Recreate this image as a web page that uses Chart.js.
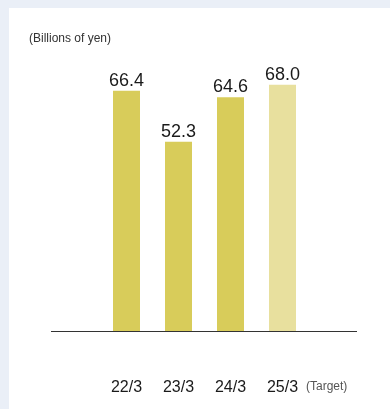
<!DOCTYPE html>
<html>
<head>
<meta charset="utf-8">
<script src="https://cdn.jsdelivr.net/npm/chart.js@4/dist/chart.umd.min.js"></script>
<style>
  html, body { margin: 0; padding: 0; background: #eaeff7; }
  #wrap { position: relative; width: 390px; height: 409px; overflow: hidden; }
  #panel { position: absolute; left: 9px; top: 8px; right: 0; bottom: 0; background: #ffffff; }
  #chart { position: absolute; left: 0; top: 0; }
</style>
</head>
<body>
<div id="wrap">
  <div id="panel"></div>
  <canvas id="chart" width="390" height="409"></canvas>
</div>
<script>
// Fiscal years (year/month of fiscal year-end)
const categories = ['22/3', '23/3', '24/3', '25/3'];
// Amounts in billions of yen; the last year is a target
const values = [66.4, 52.3, 64.6, 68.0];
const notes = ['', '', '', '(Target)'];
const unitLabel = '(Billions of yen)';

const FONT = "'Liberation Sans', Arial, Helvetica, sans-serif";
const barColors = values.map((v, i) => notes[i] ? '#e8e09e' : '#d8cc5a');
const TICK_PAD = 47;

const decorations = {
  id: 'decorations',
  beforeDatasetsDraw(chart) {
    const { ctx, chartArea, scales } = chart;
    const y0 = Math.round(scales.y.getPixelForValue(0)) + 0.5;
    ctx.save();
    ctx.strokeStyle = '#333333';
    ctx.lineWidth = 1.2;
    ctx.beginPath();
    ctx.moveTo(chartArea.left - 49.5, y0);
    ctx.lineTo(chartArea.right + 48.5, y0);
    ctx.stroke();
    ctx.restore();
  },
  afterDatasetsDraw(chart) {
    const { ctx, scales } = chart;
    const meta = chart.getDatasetMeta(0);
    ctx.save();
    // value labels above the bars
    ctx.fillStyle = '#1a1a1a';
    ctx.font = '18px ' + FONT;
    ctx.textAlign = 'center';
    ctx.textBaseline = 'alphabetic';
    meta.data.forEach((bar, i) => {
      ctx.fillText(values[i].toFixed(1), bar.x, bar.y - 5);
    });
    // unit caption
    ctx.fillStyle = '#333333';
    ctx.font = '12px ' + FONT;
    ctx.textAlign = 'left';
    ctx.textBaseline = 'middle';
    ctx.fillText(unitLabel, 29, 39);
    // notes after category labels
    ctx.fillStyle = '#555555';
    notes.forEach((n, i) => {
      if (!n) return;
      const x = scales.x.getPixelForValue(i) + 23.5;
      ctx.fillText(n, x, scales.x.top + TICK_PAD + 9);
    });
    ctx.restore();
  }
};

new Chart(document.getElementById('chart'), {
  type: 'bar',
  data: {
    labels: categories,
    datasets: [{
      data: values,
      backgroundColor: barColors,
      borderWidth: 0,
      categoryPercentage: 1,
      barPercentage: 27 / 52
    }]
  },
  options: {
    responsive: false,
    animation: false,
    layout: { padding: { left: 100.5, right: 81.5, top: 41.4, bottom: 8 } },
    plugins: { legend: { display: false }, tooltip: { enabled: false }, title: { display: false } },
    scales: {
      y: {
        display: false,
        min: 0,
        max: 80
      },
      x: {
        grid: { display: false, drawTicks: false },
        border: { display: false },
        afterFit(scale) { scale.height = 70; },
        ticks: {
          color: '#1a1a1a',
          font: { family: FONT, size: 16 },
          padding: TICK_PAD,
          maxRotation: 0
        }
      }
    }
  },
  plugins: [decorations]
});
</script>
</body>
</html>
